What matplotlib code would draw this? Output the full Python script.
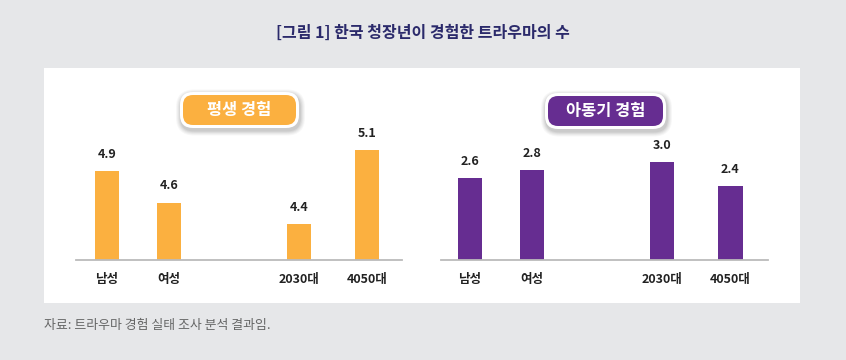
import matplotlib
matplotlib.use("Agg")
import matplotlib.pyplot as plt
from matplotlib.patches import Rectangle, FancyBboxPatch

plt.rcParams['font.family'] = ['Noto Sans CJK KR', 'DejaVu Sans']

# ---- data ----
categories = ["남성", "여성", "2030대", "4050대"]
lifetime_values = [4.9, 4.6, 4.4, 5.1]
childhood_values = [2.6, 2.8, 3.0, 2.4]
title_text = "[그림 1] 한국 청장년이 경험한 트라우마의 수"
lifetime_label = "평생 경험"
childhood_label = "아동기 경험"
source_text = "자료: 트라우마 경험 실태 조사 분석 결과임."

# ---- layout / style ----
W, H = 846, 360
positions = [0, 1, 3.1, 4.2]
bar_width = 0.39
orange = "#FBB040"
purple = "#662D91"
bg_gray = "#E6E7E9"
title_color = "#2B2A6B"

fig = plt.figure(figsize=(W / 100, H / 100), dpi=100)
fig.patch.set_facecolor(bg_gray)

bg = fig.add_axes([0, 0, 1, 1], zorder=0)
bg.set_xlim(0, W)
bg.set_ylim(H, 0)
bg.axis("off")

# white panel
bg.add_patch(Rectangle((44, 68), 756, 235, facecolor="white", edgecolor="none"))

# title & source
bg.text(W / 2, 33, title_text, ha="center", va="center", fontsize=11.5,
        fontweight="bold", color=title_color)
bg.text(44, 326, source_text, ha="left", va="center", fontsize=9.3, color="#666666")


def label_box(x0, y0, x1, y1, fill, text):
    # soft shadow
    for d, a in [(5, 0.03), (4, 0.035), (3, 0.04), (2, 0.05), (1, 0.06)]:
        bg.add_patch(FancyBboxPatch((x0 - d + 1, y0 - d + 2.5), (x1 - x0) + 2 * d, (y1 - y0) + 2 * d,
                                    boxstyle=f"round,pad=0,rounding_size={13 + d}",
                                    facecolor="#000000", edgecolor="none", alpha=a))
    bg.add_patch(FancyBboxPatch((x0, y0), x1 - x0, y1 - y0,
                                boxstyle="round,pad=0,rounding_size=13",
                                facecolor="white", edgecolor="none"))
    bg.add_patch(FancyBboxPatch((x0 + 3, y0 + 3), x1 - x0 - 6, y1 - y0 - 6,
                                boxstyle="round,pad=0,rounding_size=10",
                                facecolor=fill, edgecolor="none"))
    bg.text((x0 + x1) / 2, (y0 + y1) / 2, text, ha="center", va="center",
            fontsize=11.8, fontweight="bold", color="white")


label_box(180, 92, 299, 128, orange, lifetime_label)
label_box(545, 93, 666, 129, purple, childhood_label)


def bar_panel(left_px, right_px, xlim, ylim, values, color):
    base_px = 259.5
    top_px = 140
    ax = fig.add_axes([left_px / W, (H - base_px) / H, (right_px - left_px) / W,
                       (base_px - top_px) / H], zorder=2)
    ax.patch.set_alpha(0)
    ax.bar(positions, values, width=bar_width, color=color)
    for x, v in zip(positions, values):
        ax.annotate(f"{v:.1f}", (x, v), xytext=(0, 7.5), textcoords="offset points",
                    ha="center", va="bottom", fontsize=9, fontweight="bold",
                    color="#222222")
    ax.set_xlim(*xlim)
    ax.set_ylim(*ylim)
    for s in ["top", "left", "right"]:
        ax.spines[s].set_visible(False)
    ax.spines["bottom"].set_color("#BBBBBB")
    ax.spines["bottom"].set_linewidth(1.3)
    ax.set_yticks([])
    ax.set_xticks(positions, categories)
    ax.tick_params(axis="x", length=0, pad=9.5, labelsize=9, labelcolor="#222222")
    for lbl in ax.get_xticklabels():
        lbl.set_fontweight("bold")
    return ax


bar_panel(76, 402, (-0.5, 4.758), (4.063, 4.063 + 119.5 / 105.5), lifetime_values, orange)
bar_panel(441, 768, (-0.468, 4.806), (0.575, 0.575 + 119.5 / 40), childhood_values, purple)

fig.savefig("out.png", dpi=100, facecolor=fig.get_facecolor())
